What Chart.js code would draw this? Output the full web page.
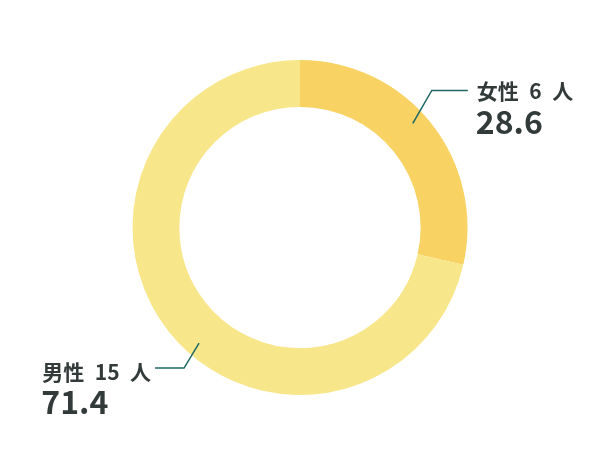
<!DOCTYPE html>
<html><head><meta charset="utf-8">
<script src="https://cdn.jsdelivr.net/npm/chart.js@4.4.1/dist/chart.umd.min.js"></script>
<style>html,body{margin:0;padding:0;background:#fff}#wrap{width:600px;height:460px}</style>
</head><body><div id="wrap"><canvas id="c" width="600" height="460"></canvas></div>
<script>
const categories = ["女性", "男性"];
const counts = [6, 15];
const percents = [28.6, 71.4];
const colors = ["#f8d263", "#f8e68b"];

const FONT = '"Noto Sans CJK JP", "Noto Sans", sans-serif';
const TEXT = '#333a3a';
const LINE = '#1e6864';

const leaderPlugin = {
  id: 'leaders',
  afterDraw(chart) {
    const ctx = chart.ctx;
    const meta = chart.getDatasetMeta(0);
    meta.data.forEach((arc, i) => {
      const p = arc.getProps(['x','y','startAngle','endAngle','innerRadius','outerRadius'], true);
      const a = p.startAngle + (p.endAngle - p.startAngle) * 0.46;
      const r = p.innerRadius + (p.outerRadius - p.innerRadius) * 0.7;
      const x0 = p.x + Math.cos(a) * r, y0 = p.y + Math.sin(a) * r;
      const right = Math.cos(a) >= 0;
      const dx = right ? 19 : -15, dy = right ? -33 : 25;
      const x1 = x0 + dx, y1 = y0 + dy;
      const x2 = x1 + (right ? 36 : -29);
      ctx.save();
      ctx.strokeStyle = LINE; ctx.lineWidth = 1.5;
      ctx.beginPath(); ctx.moveTo(x0, y0); ctx.lineTo(x1, y1); ctx.lineTo(x2, y1); ctx.stroke();
      const line1 = categories[i] + '\u2002' + counts[i] + '\u2002人';
      ctx.fillStyle = TEXT;
      ctx.font = 'bold 21px ' + FONT;
      ctx.textBaseline = 'middle';
      const w = ctx.measureText(line1).width;
      const left = right ? x2 + 9 : x2 - 4 - w;
      const off = right ? 0 : 2.7;
      ctx.textAlign = 'left';
      ctx.fillText(line1, left, y1 + 1 + off);
      ctx.font = 'bold 32px ' + FONT;
      ctx.fillText(percents[i].toFixed(1), left - 1, y1 + 31 + off);
      ctx.restore();
    });
  }
};

new Chart(document.getElementById('c'), {
  type: 'doughnut',
  data: {
    labels: categories,
    datasets: [{ data: counts, backgroundColor: colors, borderWidth: 0, hoverOffset: 0 }]
  },
  options: {
    responsive: false,
    animation: false,
    cutout: '72%',
    layout: { padding: { top: 60, bottom: 65, left: 0, right: 0 } },
    plugins: { legend: { display: false }, tooltip: { enabled: false } }
  },
  plugins: [leaderPlugin]
});
</script></body></html>
